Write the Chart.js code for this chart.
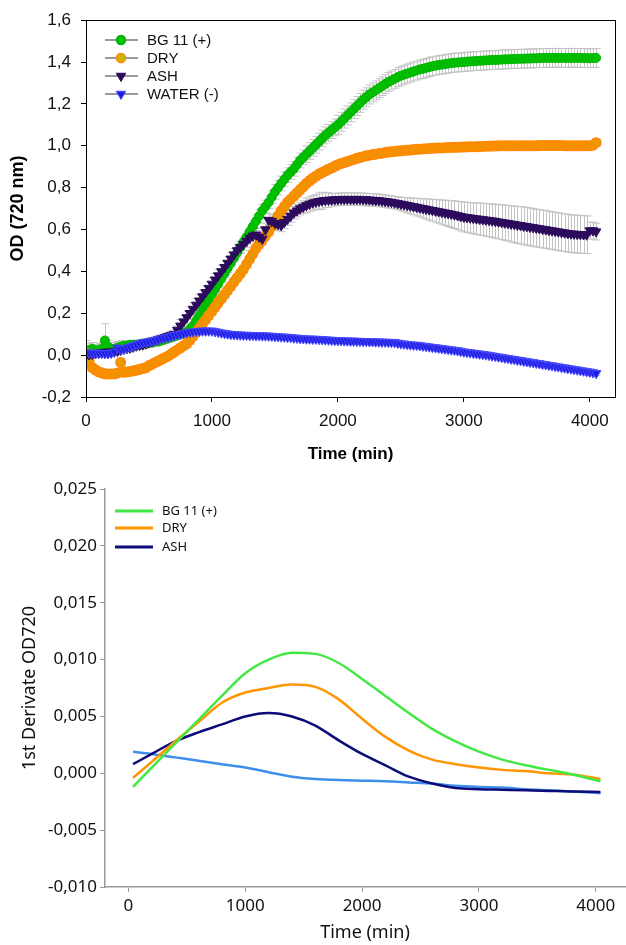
<!DOCTYPE html>
<html>
<head>
<meta charset="utf-8">
<script src="https://cdn.jsdelivr.net/npm/chart.js@4/dist/chart.umd.min.js"></script>
<style>
html,body{margin:0;padding:0;background:#fff;}
#wrap1{position:absolute;left:0;top:0;width:626px;height:475px;}
#wrap2{position:absolute;left:0;top:475px;width:626px;height:470px;}
canvas{display:block;}
</style>
</head>
<body>
<div id="wrap1"><canvas id="c1" width="626" height="475"></canvas></div>
<div id="wrap2"><canvas id="c2" width="626" height="470"></canvas></div>
<script>
// ---------- Top chart data (OD 720 nm), readings every 25 min ----------
const TIME_TOP = [0,25,50,75,100,125,150,175,200,225,250,275,300,325,350,375,400,425,450,475,
500,525,550,575,600,625,650,675,700,725,750,775,800,825,850,875,900,925,950,975,
1000,1025,1050,1075,1100,1125,1150,1175,1200,1225,1250,1275,1300,1325,1350,1375,1400,1425,1450,1475,
1500,1525,1550,1575,1600,1625,1650,1675,1700,1725,1750,1775,1800,1825,1850,1875,1900,1925,1950,1975,
2000,2025,2050,2075,2100,2125,2150,2175,2200,2225,2250,2275,2300,2325,2350,2375,2400,2425,2450,2475,
2500,2525,2550,2575,2600,2625,2650,2675,2700,2725,2750,2775,2800,2825,2850,2875,2900,2925,2950,2975,
3000,3025,3050,3075,3100,3125,3150,3175,3200,3225,3250,3275,3300,3325,3350,3375,3400,3425,3450,3475,
3500,3525,3550,3575,3600,3625,3650,3675,3700,3725,3750,3775,3800,3825,3850,3875,3900,3925,3950,3975,
4000,4025,4050];

const BG11 = [0.02,0.025,0.03,0.02,0.025,0.03,0.07,0.04,0.03,0.03,0.035,0.04,0.045,0.045,0.05,0.05,0.05,0.05,0.055,0.055,
0.06,0.06,0.065,0.065,0.07,0.075,0.08,0.085,0.09,0.095,0.10,0.105,0.11,0.125,0.14,0.165,0.19,0.215,0.24,0.265,
0.29,0.315,0.34,0.365,0.39,0.415,0.44,0.465,0.49,0.515,0.54,0.565,0.59,0.615,0.64,0.665,0.69,0.71,0.73,0.755,
0.78,0.80,0.82,0.84,0.86,0.875,0.89,0.91,0.93,0.945,0.96,0.975,0.99,1.005,1.02,1.035,1.05,1.062,1.075,1.088,
1.10,1.115,1.13,1.145,1.16,1.175,1.19,1.205,1.22,1.232,1.245,1.255,1.265,1.275,1.285,1.295,1.305,1.312,1.32,1.328,
1.335,1.34,1.345,1.35,1.355,1.36,1.365,1.368,1.372,1.376,1.38,1.383,1.386,1.388,1.39,1.393,1.395,1.397,1.398,1.399,
1.40,1.402,1.403,1.404,1.405,1.406,1.407,1.408,1.409,1.41,1.41,1.411,1.412,1.413,1.413,1.414,1.415,1.415,1.416,1.416,
1.417,1.417,1.418,1.418,1.419,1.419,1.42,1.42,1.42,1.42,1.42,1.42,1.42,1.42,1.42,1.42,1.42,1.42,1.419,1.419,
1.418,1.419,1.42];
const BG11_ERR = [0.05,0.03,0.03,0.03,0.03,0.03,0.08,0.03,0.03,0.03,0.03,0.03,0.025,0.02,0.02,0.02,0.02,0.02,0.02,0.02,
0.02,0.02,0.02,0.02,0.02,0.02,0.02,0.02,0.02,0.02,0.02,0.02,0.02,0.02,0.02,0.02,0.02,0.02,0.02,0.02,
0.02,0.02,0.02,0.02,0.02,0.02,0.02,0.02,0.025,0.025,0.025,0.025,0.025,0.025,0.03,0.03,0.03,0.03,0.03,0.03,
0.035,0.035,0.035,0.035,0.035,0.035,0.035,0.035,0.035,0.035,0.04,0.04,0.04,0.04,0.04,0.04,0.04,0.04,0.04,0.04,
0.045,0.045,0.045,0.045,0.045,0.045,0.045,0.045,0.045,0.045,0.045,0.045,0.045,0.045,0.045,0.045,0.045,0.045,0.045,0.045,
0.045,0.045,0.045,0.045,0.045,0.045,0.045,0.045,0.045,0.045,0.045,0.045,0.045,0.045,0.045,0.045,0.045,0.045,0.045,0.045,
0.045,0.045,0.045,0.045,0.045,0.045,0.045,0.045,0.045,0.045,0.045,0.045,0.045,0.045,0.045,0.045,0.045,0.045,0.045,0.045,
0.045,0.045,0.045,0.045,0.045,0.045,0.045,0.045,0.045,0.045,0.045,0.045,0.045,0.045,0.045,0.045,0.045,0.045,0.045,0.045,
0.045,0.045,0.045];

const DRY = [0.01,-0.03,-0.06,-0.07,-0.08,-0.085,-0.09,-0.09,-0.09,-0.09,-0.085,-0.035,-0.082,-0.08,-0.078,-0.075,-0.072,-0.068,-0.064,-0.06,
-0.05,-0.043,-0.035,-0.028,-0.02,-0.012,-0.005,0.005,0.015,0.025,0.035,0.045,0.055,0.072,0.09,0.11,0.13,0.15,0.17,0.19,
0.21,0.23,0.25,0.27,0.29,0.31,0.33,0.35,0.37,0.39,0.41,0.435,0.46,0.485,0.51,0.53,0.55,0.57,0.59,0.615,
0.64,0.665,0.69,0.71,0.73,0.745,0.76,0.775,0.79,0.805,0.82,0.833,0.845,0.855,0.865,0.873,0.88,0.888,0.895,0.902,
0.91,0.915,0.92,0.925,0.93,0.935,0.94,0.944,0.948,0.952,0.955,0.958,0.96,0.963,0.965,0.968,0.97,0.972,0.973,0.975,
0.976,0.978,0.979,0.98,0.982,0.983,0.984,0.985,0.986,0.987,0.988,0.989,0.99,0.99,0.991,0.992,0.992,0.993,0.993,0.994,
0.994,0.995,0.995,0.996,0.996,0.997,0.997,0.998,0.998,0.999,0.999,1.0,1.0,1.0,1.0,1.0,1.0,1.0,1.0,1.0,
1.0,1.0,1.0,1.0,1.001,1.001,1.001,1.001,1.001,1.001,1.001,1.001,1.0,1.0,1.0,1.0,1.0,1.0,1.0,1.0,
1.0,1.003,1.015];
const DRY_ERR = [0.03,0.02,0.02,0.02,0.02,0.02,0.02,0.02,0.02,0.02,0.02,0.02,0.02,0.02,0.02,0.02,0.02,0.02,0.02,0.02,
0.015,0.015,0.015,0.015,0.015,0.015,0.015,0.015,0.015,0.015,0.02,0.02,0.02,0.02,0.02,0.02,0.02,0.02,0.02,0.02,
0.02,0.02,0.02,0.02,0.02,0.02,0.02,0.02,0.02,0.02,0.02,0.02,0.02,0.02,0.02,0.02,0.02,0.02,0.02,0.02,
0.02,0.02,0.02,0.02,0.02,0.02,0.02,0.02,0.02,0.02,0.02,0.02,0.02,0.02,0.02,0.02,0.02,0.02,0.02,0.02,
0.018,0.018,0.018,0.018,0.018,0.018,0.018,0.018,0.018,0.018,0.018,0.018,0.018,0.018,0.018,0.018,0.018,0.018,0.018,0.018,
0.018,0.018,0.018,0.018,0.018,0.018,0.018,0.018,0.018,0.018,0.018,0.018,0.018,0.018,0.018,0.018,0.018,0.018,0.018,0.018,
0.018,0.018,0.018,0.018,0.018,0.018,0.018,0.018,0.018,0.018,0.018,0.018,0.018,0.018,0.018,0.018,0.018,0.018,0.018,0.018,
0.018,0.018,0.018,0.018,0.018,0.018,0.018,0.018,0.018,0.018,0.018,0.018,0.018,0.018,0.018,0.018,0.018,0.018,0.018,0.018,
0.018,0.018,0.018];

const ASH = [0.0,0.003,0.005,0.008,0.01,0.012,0.015,0.015,0.015,0.018,0.02,0.025,0.03,0.033,0.035,0.04,0.045,0.048,0.05,0.055,
0.06,0.065,0.07,0.075,0.08,0.085,0.09,0.095,0.10,0.12,0.14,0.16,0.18,0.20,0.22,0.24,0.26,0.28,0.30,0.32,
0.34,0.36,0.38,0.40,0.42,0.44,0.46,0.48,0.50,0.515,0.53,0.545,0.56,0.57,0.575,0.565,0.555,0.60,0.645,0.64,
0.63,0.625,0.62,0.635,0.65,0.665,0.68,0.69,0.70,0.708,0.715,0.722,0.728,0.732,0.735,0.738,0.74,0.741,0.742,0.743,
0.744,0.745,0.745,0.745,0.745,0.745,0.745,0.745,0.744,0.743,0.742,0.741,0.74,0.739,0.737,0.735,0.733,0.731,0.728,0.725,
0.722,0.719,0.716,0.713,0.71,0.707,0.704,0.701,0.698,0.695,0.692,0.689,0.686,0.683,0.68,0.677,0.674,0.671,0.667,0.663,
0.66,0.658,0.656,0.654,0.652,0.65,0.648,0.646,0.644,0.642,0.64,0.637,0.635,0.632,0.63,0.627,0.625,0.622,0.62,0.617,
0.615,0.612,0.61,0.607,0.605,0.602,0.60,0.597,0.595,0.592,0.59,0.587,0.585,0.582,0.58,0.579,0.578,0.577,0.576,0.575,
0.595,0.595,0.59];
const ASH_ERR = [0.02,0.02,0.02,0.02,0.02,0.02,0.02,0.02,0.02,0.02,0.02,0.02,0.02,0.02,0.02,0.02,0.02,0.02,0.02,0.02,
0.02,0.02,0.02,0.02,0.02,0.02,0.02,0.02,0.02,0.02,0.03,0.03,0.03,0.03,0.03,0.03,0.03,0.03,0.03,0.03,
0.03,0.03,0.03,0.03,0.03,0.03,0.03,0.03,0.03,0.03,0.03,0.03,0.03,0.03,0.03,0.03,0.03,0.03,0.03,0.03,
0.03,0.03,0.03,0.03,0.03,0.03,0.03,0.03,0.03,0.03,0.035,0.035,0.035,0.035,0.04,0.04,0.035,0.035,0.03,0.03,
0.03,0.03,0.03,0.03,0.03,0.03,0.03,0.03,0.03,0.03,0.03,0.03,0.03,0.03,0.03,0.03,0.03,0.03,0.03,0.03,
0.032,0.034,0.036,0.038,0.04,0.042,0.044,0.046,0.048,0.05,0.052,0.054,0.056,0.058,0.06,0.062,0.064,0.066,0.068,0.07,
0.071,0.072,0.073,0.074,0.075,0.076,0.077,0.078,0.079,0.08,0.081,0.082,0.083,0.084,0.085,0.086,0.087,0.088,0.089,0.09,
0.09,0.09,0.09,0.09,0.09,0.09,0.09,0.09,0.09,0.09,0.09,0.09,0.09,0.09,0.09,0.09,0.09,0.09,0.09,0.09,
0.04,0.04,0.04];

const WATER = [0.012,0.011,0.01,0.01,0.01,0.009,0.008,0.008,0.01,0.015,0.035,0.028,0.03,0.035,0.04,0.045,0.05,0.055,0.06,0.062,
0.065,0.068,0.07,0.075,0.08,0.083,0.085,0.09,0.095,0.098,0.10,0.104,0.108,0.11,0.112,0.114,0.115,0.116,0.116,0.116,
0.116,0.113,0.11,0.107,0.104,0.102,0.10,0.099,0.098,0.097,0.096,0.096,0.095,0.095,0.094,0.094,0.093,0.093,0.092,0.091,
0.09,0.089,0.088,0.087,0.086,0.085,0.083,0.082,0.08,0.079,0.078,0.078,0.077,0.077,0.076,0.075,0.074,0.073,0.072,0.071,
0.07,0.07,0.069,0.069,0.068,0.068,0.067,0.067,0.066,0.066,0.065,0.065,0.064,0.064,0.063,0.063,0.062,0.062,0.061,0.058,
0.055,0.054,0.052,0.05,0.049,0.048,0.046,0.044,0.042,0.04,0.038,0.036,0.034,0.032,0.03,0.028,0.026,0.024,0.022,0.019,
0.016,0.014,0.012,0.01,0.008,0.006,0.004,0.002,0.0,-0.003,-0.005,-0.008,-0.01,-0.013,-0.015,-0.018,-0.02,-0.023,-0.025,-0.028,
-0.03,-0.033,-0.035,-0.038,-0.04,-0.043,-0.045,-0.048,-0.05,-0.053,-0.055,-0.058,-0.06,-0.063,-0.065,-0.068,-0.07,-0.073,-0.075,-0.078,
-0.08,-0.083,-0.087];
const WATER_ERR = [0.015,0.015,0.015,0.015,0.015,0.015,0.015,0.015,0.015,0.015,0.015,0.015,0.015,0.015,0.015,0.015,0.015,0.015,0.015,0.015,
0.01,0.01,0.01,0.01,0.01,0.01,0.01,0.01,0.01,0.01,0.01,0.01,0.01,0.01,0.01,0.01,0.01,0.01,0.01,0.01,
0.01,0.01,0.01,0.01,0.01,0.01,0.01,0.01,0.01,0.01,0.01,0.01,0.01,0.01,0.01,0.01,0.01,0.01,0.01,0.01,
0.01,0.01,0.01,0.01,0.01,0.01,0.01,0.01,0.01,0.01,0.01,0.01,0.01,0.01,0.01,0.01,0.01,0.01,0.01,0.01,
0.01,0.01,0.01,0.01,0.01,0.01,0.01,0.01,0.01,0.01,0.01,0.01,0.01,0.01,0.01,0.01,0.01,0.01,0.01,0.01,
0.01,0.01,0.01,0.01,0.01,0.01,0.01,0.01,0.01,0.01,0.01,0.01,0.01,0.01,0.01,0.01,0.01,0.01,0.01,0.01,
0.01,0.01,0.01,0.01,0.01,0.01,0.01,0.01,0.01,0.01,0.01,0.01,0.01,0.01,0.01,0.01,0.01,0.01,0.01,0.01,
0.01,0.01,0.01,0.01,0.01,0.01,0.01,0.01,0.01,0.01,0.01,0.01,0.01,0.01,0.01,0.01,0.01,0.01,0.01,0.01,
0.01,0.01,0.01];

const TOP_LABELS = ["BG 11 (+)", "DRY", "ASH", "WATER (-)"];
const X_TICKS_TOP = [0, 1000, 2000, 3000, 4000];
const Y_TICKS_TOP = [-0.2, 0, 0.2, 0.4, 0.6, 0.8, 1.0, 1.2, 1.4, 1.6];

// ---------- Bottom chart data (1st derivative) ----------
const TIME_D = [40,200,400,600,800,1000,1200,1400,1600,1800,2000,2200,2400,2600,2800,3000,3200,3400,3600,3800,4040];
const BG11_D = [-0.0012,0.0005,0.0026,0.0047,0.0068,0.0088,0.0100,0.0106,0.0105,0.0097,0.0083,0.0068,0.0053,0.0039,0.0028,0.0019,0.0012,0.0007,0.0003,-0.0001,-0.0007];
const DRY_D = [-0.0004,0.0010,0.0028,0.0045,0.0062,0.0071,0.0075,0.0078,0.0076,0.0065,0.0048,0.0032,0.0020,0.0012,0.0008,0.0005,0.0003,0.0002,0.0000,-0.0001,-0.0005];
const ASH_D = [0.0008,0.0017,0.0028,0.0036,0.0043,0.0050,0.0053,0.0050,0.0042,0.0029,0.0017,0.0007,-0.0003,-0.0009,-0.0013,-0.0014,-0.00145,-0.0015,-0.00155,-0.0016,-0.00165];
const WATER_D = [0.0019,0.0017,0.0014,0.0011,0.0008,0.0005,0.0001,-0.0003,-0.0005,-0.0006,-0.00065,-0.0007,-0.0008,-0.0009,-0.0011,-0.0012,-0.00125,-0.0014,-0.0015,-0.0016,-0.00175];
const BOTTOM_LABELS = ["BG 11 (+)", "DRY", "ASH"];
const X_TICKS_BOT = [0, 1000, 2000, 3000, 4000];
const Y_TICKS_BOT = [-0.010, -0.005, 0, 0.005, 0.010, 0.015, 0.020, 0.025];

// ---------- helpers ----------
const pts = (xs, ys) => xs.map((x, i) => ({x: x, y: ys[i]}));
const commaFmt = d => v => Number(v).toFixed(d).replace('.', ',');
const setTicks = list => s => { s.ticks = list.map(v => ({value: v})); };

function drawMarker(ctx, style, x, y, r, fill, stroke, bw) {
  ctx.save();
  ctx.beginPath();
  if (style === 'circle') {
    ctx.arc(x, y, r, 0, Math.PI * 2);
  } else {
    const w = r * Math.sqrt(3) / 2;
    ctx.moveTo(x - w, y - r / 2);
    ctx.lineTo(x + w, y - r / 2);
    ctx.lineTo(x, y + r);
    ctx.closePath();
  }
  ctx.fillStyle = fill; ctx.fill();
  ctx.lineWidth = bw; ctx.strokeStyle = stroke; ctx.stroke();
  ctx.restore();
}

const errorBars = {
  id: 'errorBars',
  beforeDatasetsDraw(chart) {
    const ctx = chart.ctx, xs = chart.scales.x, ys = chart.scales.y, a = chart.chartArea;
    ctx.save();
    ctx.beginPath(); ctx.rect(a.left, a.top, a.right - a.left, a.bottom - a.top); ctx.clip();
    ctx.strokeStyle = '#c4c4c4'; ctx.lineWidth = 1;
    chart.data.datasets.forEach(ds => {
      if (!ds.errors) return;
      ds.data.forEach((p, i) => {
        const e = ds.errors[i];
        const x = Math.round(xs.getPixelForValue(p.x)) + 0.5;
        const y1 = ys.getPixelForValue(p.y + e), y2 = ys.getPixelForValue(p.y - e);
        ctx.beginPath();
        ctx.moveTo(x, y1); ctx.lineTo(x, y2);
        ctx.moveTo(x - 4, y1); ctx.lineTo(x + 4, y1);
        ctx.moveTo(x - 4, y2); ctx.lineTo(x + 4, y2);
        ctx.stroke();
      });
    });
    ctx.restore();
  }
};

const frame = {
  id: 'frame',
  afterDraw(chart) {
    const a = chart.chartArea, ctx = chart.ctx;
    ctx.save();
    ctx.strokeStyle = '#000'; ctx.lineWidth = 1;
    ctx.strokeRect(Math.round(a.left) + 0.5, Math.round(a.top) + 0.5, Math.round(a.right - a.left), Math.round(a.bottom - a.top));
    ctx.restore();
  }
};

const topLegend = {
  id: 'topLegend',
  afterDraw(chart) {
    const ctx = chart.ctx;
    const rows = [40, 58, 76, 94];
    TOP_LABELS.forEach((lab, i) => {
      const ds = chart.data.datasets.find(d => d.label === lab);
      const y = rows[i];
      ctx.save();
      ctx.strokeStyle = '#7a7a7a'; ctx.lineWidth = 1.5;
      ctx.beginPath(); ctx.moveTo(105, y); ctx.lineTo(138, y); ctx.stroke();
      ctx.restore();
      drawMarker(ctx, ds.pointStyle === 'circle' ? 'circle' : 'tri', 121, y, ds.pointStyle === 'circle' ? 4.5 : 5.5,
                 ds.legendFill || ds.pointBackgroundColor, ds.pointBorderColor, ds.pointStyle === 'circle' ? 1.5 : 1);
      ctx.save();
      ctx.fillStyle = '#111'; ctx.font = '15px "Liberation Sans", Arial, sans-serif';
      ctx.textBaseline = 'middle'; ctx.textAlign = 'left';
      ctx.fillText(lab, 147, y + 1);
      ctx.restore();
    });
  }
};

const bottomLegend = {
  id: 'bottomLegend',
  afterDraw(chart) {
    const ctx = chart.ctx;
    const rows = [36, 53, 72];
    BOTTOM_LABELS.forEach((lab, i) => {
      const ds = chart.data.datasets.find(d => d.label === lab);
      const y = rows[i];
      ctx.save();
      ctx.strokeStyle = ds.borderColor; ctx.lineWidth = 3;
      ctx.beginPath(); ctx.moveTo(115, y); ctx.lineTo(153, y); ctx.stroke();
      ctx.fillStyle = '#111'; ctx.font = '13px "Noto Sans", sans-serif';
      ctx.textBaseline = 'middle'; ctx.textAlign = 'left';
      ctx.fillText(lab, 162, y);
      ctx.restore();
    });
  }
};

// ---------- Top chart ----------
const FONT_TOP = '"Liberation Sans", Arial, sans-serif';
function topDs(label, ys, errs, style, fill, stroke, bw, order, legendFill) {
  return {
    label: label, data: pts(TIME_TOP, ys), errors: errs, legendFill: legendFill,
    showLine: true, borderColor: '#8f8f8f', borderWidth: 1,
    pointStyle: style, pointRotation: style === 'triangle' ? 180 : 0,
    pointRadius: style === 'circle' ? 4.5 : 5.5,
    pointBackgroundColor: fill, pointBorderColor: stroke, pointBorderWidth: bw,
    order: order
  };
}

new Chart(document.getElementById('c1'), {
  type: 'scatter',
  data: {
    datasets: [
      topDs(TOP_LABELS[0], BG11, BG11_ERR, 'circle', '#00c000', '#00b400', 1, 4),
      topDs(TOP_LABELS[1], DRY, DRY_ERR, 'circle', '#e69a00', '#ff8a00', 2, 3, '#c8b400'),
      topDs(TOP_LABELS[2], ASH, ASH_ERR, 'triangle', '#2c0a5c', '#2c0a5c', 1, 2),
      topDs(TOP_LABELS[3], WATER, WATER_ERR, 'triangle', '#1e1ee0', '#4a4aff', 1, 1)
    ]
  },
  options: {
    responsive: false, animation: false, devicePixelRatio: 1,
    layout: {padding: {left: 0, top: 15, right: 11, bottom: 0}},
    plugins: {legend: {display: false}, tooltip: {enabled: false}},
    scales: {
      x: {
        type: 'linear', min: 0, max: 4200,
        afterFit: s => { s.height = 78; },
        afterBuildTicks: setTicks(X_TICKS_TOP),
        ticks: {color: '#111', padding: 9, autoSkip: false,
                font: {family: FONT_TOP, size: 17}, maxRotation: 0, callback: v => String(v)},
        grid: {display: true, drawOnChartArea: false, drawTicks: true, tickLength: 5, tickColor: '#000', color: '#000'},
        border: {display: true, color: '#000', width: 1},
        title: {display: true, text: 'Time (min)', color: '#000',
                font: {family: FONT_TOP, size: 17, weight: 'bold'}, padding: {top: 0, bottom: 10}}
      },
      y: {
        type: 'linear', min: -0.2, max: 1.6,
        afterFit: s => { s.width = 86; },
        afterBuildTicks: setTicks(Y_TICKS_TOP),
        ticks: {color: '#111', padding: 10, autoSkip: false,
                font: {family: FONT_TOP, size: 17}, callback: commaFmt(1)},
        grid: {display: true, drawOnChartArea: false, drawTicks: true, tickLength: 5, tickColor: '#000', color: '#000'},
        border: {display: true, color: '#000', width: 1},
        title: {display: true, text: 'OD (720 nm)', color: '#000',
                font: {family: FONT_TOP, size: 18, weight: 'bold'}, padding: {top: 7, bottom: 0}}
      }
    }
  },
  plugins: [errorBars, frame, topLegend]
});

// ---------- Bottom chart ----------
const FONT_BOT = '"Noto Sans", "Open Sans", sans-serif';
function botDs(label, ys, color) {
  return {
    label: label, data: pts(TIME_D, ys), showLine: true,
    borderColor: color, backgroundColor: color, borderWidth: 2.5,
    pointRadius: 0, cubicInterpolationMode: 'monotone'
  };
}
new Chart(document.getElementById('c2'), {
  type: 'scatter',
  data: {
    datasets: [
      botDs(BOTTOM_LABELS[0], BG11_D, '#44e844'),
      botDs(BOTTOM_LABELS[1], DRY_D, '#ff9500'),
      botDs(BOTTOM_LABELS[2], ASH_D, '#0c0c78'),
      botDs('WATER (-)', WATER_D, '#3d8fea')
    ]
  },
  options: {
    responsive: false, animation: false, devicePixelRatio: 1,
    layout: {padding: {left: 0, top: 14, right: 1, bottom: 0}},
    plugins: {legend: {display: false}, tooltip: {enabled: false}},
    scales: {
      x: {
        type: 'linear', min: -200, max: 4250,
        afterFit: s => { s.height = 58; },
        afterBuildTicks: setTicks(X_TICKS_BOT),
        ticks: {color: '#111', padding: 4, autoSkip: false,
                font: {family: FONT_BOT, size: 17}, maxRotation: 0, callback: v => String(v)},
        grid: {display: true, drawOnChartArea: false, drawTicks: true, tickLength: 5, tickColor: '#9a9a9a', color: '#9a9a9a'},
        border: {display: true, color: '#9a9a9a', width: 1.5},
        title: {display: true, text: 'Time (min)', color: '#111',
                font: {family: FONT_BOT, size: 18}, padding: {top: 0, bottom: 1}}
      },
      y: {
        type: 'linear', min: -0.010, max: 0.025,
        afterFit: s => { s.width = 105; },
        afterBuildTicks: setTicks(Y_TICKS_BOT),
        ticks: {color: '#111', padding: 3, autoSkip: false,
                font: {family: FONT_BOT, size: 17}, callback: commaFmt(3)},
        grid: {display: true, drawOnChartArea: false, drawTicks: true, tickLength: 5, tickColor: '#9a9a9a', color: '#9a9a9a'},
        border: {display: true, color: '#9a9a9a', width: 1.5},
        title: {display: true, text: '1st Derivate OD720', color: '#111',
                font: {family: FONT_BOT, size: 18}, padding: {top: 19, bottom: 0}}
      }
    }
  },
  plugins: [bottomLegend]
});
</script>
</body>
</html>
